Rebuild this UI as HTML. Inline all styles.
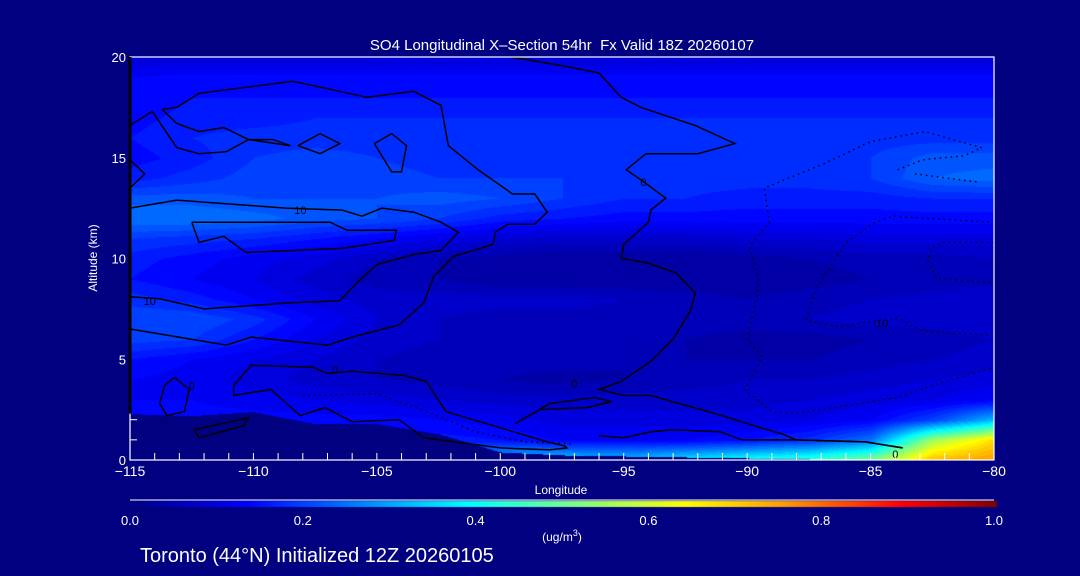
<!DOCTYPE html>
<html><head><meta charset="utf-8"><style>
html,body{margin:0;padding:0;background:#000080;}
#wrap{position:relative;width:1080px;height:576px;background:#000080;overflow:hidden;font-family:"Liberation Sans",sans-serif;}
canvas,svg{position:absolute;left:0;top:0;}
</style></head><body>
<div id="wrap">
<canvas id="cv" width="1080" height="576"></canvas>
<svg id="sv" width="1080" height="576"></svg>
</div>
<script>
// ---- data ----
const lons = [-115,-112.5,-110,-107.5,-105,-102.5,-100,-97.5,-95,-92.5,-90,-87.5,-85,-82.5,-80];
const alts = [20,19,18,17,16,15,14,13,12,11,10,9,8,7,6,5,4,3,2,1,0];
const so4 = [
[.09,.09,.09,.09,.09,.09,.09,.09,.09,.09,.09,.09,.09,.09,.09],
[.13,.14,.14,.14,.14,.14,.14,.14,.14,.14,.14,.14,.14,.14,.14],
[.13,.15,.15,.15,.15,.15,.15,.15,.15,.15,.15,.15,.15,.15,.15],
[.14,.16,.16,.17,.17,.17,.17,.17,.17,.17,.17,.17,.17,.17,.17],
[.15,.17,.18,.18,.18,.18,.18,.18,.18,.18,.18,.18,.18,.18,.18],
[.14,.16,.19,.20,.19,.18,.18,.18,.18,.18,.18,.18,.19,.22,.22],
[.16,.18,.20,.20,.20,.19,.19,.19,.18,.18,.18,.18,.19,.23,.24],
[.22,.22,.21,.21,.21,.22,.21,.19,.17,.17,.16,.16,.16,.17,.17],
[.25,.25,.24,.22,.21,.19,.16,.15,.14,.14,.14,.14,.14,.14,.14],
[.19,.18,.17,.15,.13,.11,.09,.08,.08,.08,.09,.09,.10,.10,.10],
[.16,.14,.12,.10,.07,.05,.04,.03,.03,.03,.04,.05,.06,.06,.07],
[.15,.13,.11,.08,.06,.05,.03,.03,.03,.03,.04,.04,.05,.05,.06],
[.18,.16,.13,.10,.08,.08,.08,.08,.07,.06,.05,.06,.07,.08,.09],
[.21,.21,.18,.13,.09,.07,.06,.06,.06,.06,.06,.07,.08,.08,.09],
[.20,.19,.15,.11,.08,.07,.06,.05,.05,.05,.04,.04,.05,.06,.07],
[.15,.13,.11,.09,.07,.06,.06,.06,.05,.05,.05,.05,.06,.07,.08],
[.13,.12,.10,.08,.07,.06,.05,.04,.05,.06,.07,.07,.08,.09,.10],
[.13,.13,.12,.11,.10,.09,.08,.08,.08,.08,.08,.09,.10,.11,.13],
[.14,.14,.14,.14,.14,.13,.12,.10,.10,.10,.10,.11,.13,.20,.32],
[.14,.14,.14,.14,.15,.16,.15,.13,.13,.13,.15,.18,.25,.55,.68],
[.14,.14,.14,.14,.20,.25,.33,.35,.33,.38,.42,.45,.52,.72,.76]];
const ground = [2.3,2.2,2.4,1.8,1.8,1.3,0.4,0.25,0.2,0.15,0.1,0.05,0,0,0];
const xTicks = [-115,-110,-105,-100,-95,-90,-85,-80];
const yTicks = [0,5,10,15,20];
const cbTicks = [0.0,0.2,0.4,0.6,0.8,1.0];
const solidContours = [
 [[-99.6,20],[-97.6,19.6],[-96,19.2],[-95.1,18],[-94.3,17.5],[-92.1,16.6],[-90.5,15.7],[-92,15.2],[-94.1,15.2],[-94.9,14.4],[-94.3,13.9],[-93.3,13],[-93.9,12.4],[-94,11.8],[-95,10.7],[-95.1,10],[-94.1,9.8],[-92.9,9.3],[-92.1,8.3],[-92.3,7.4],[-93,6],[-93.9,4.9],[-95.1,3.9],[-96,3.5],[-95,3.2],[-93.9,3.2],[-91,2.2],[-90,1.8],[-88.6,1.3],[-88,1],[-85.2,0.9],[-83.7,0.6]],
 [[-113.7,17.4],[-113.1,17.5],[-112.2,18.2],[-108.4,18.8],[-105.4,18],[-103.5,18.3],[-102.4,17.6],[-102.1,15.6],[-100.9,14.4],[-99.5,13.2],[-98.6,13.2],[-98.1,12.3],[-98.6,11.7],[-99.7,11.7],[-100.2,11.3],[-100.3,10.7],[-101.9,10.1],[-102.7,9.1],[-103.1,7.8],[-104.1,6.7],[-106,6.1],[-107,5.7],[-110.1,6.1],[-111.1,5.7],[-115,6.5]],
 [[-113.7,17.4],[-113.1,16.7],[-112.2,16.3],[-111.2,16.5],[-110.2,15.9],[-109.2,15.9],[-108.5,15.6]],
 [[-115,16.6],[-114.1,17.3],[-113.1,15.5],[-112.2,15.2],[-111.1,15.3],[-110.2,15.9],[-108.5,15.6]],
 [[-108.2,15.6],[-107.3,16.2],[-106.5,15.7],[-107.3,15.2],[-108.2,15.6]],
 [[-105.1,15.7],[-104.4,16.2],[-103.8,15.6],[-104,14.3],[-104.4,14.3],[-105.1,15.7]],
 [[-115,14.9],[-114.4,14.2],[-115,13.5]],
 [[-115,12.5],[-113.1,12.9],[-108.7,12.5],[-106.4,12.4],[-105.6,12.1],[-104.8,12.5],[-103.5,12.3],[-102.4,11.8],[-101.7,11.3],[-102.4,10.4],[-103.5,10.2],[-104.1,10],[-105,9.7],[-105.8,8.8],[-106.5,7.9],[-108.5,7.8],[-112,7.5],[-113.8,8],[-115,8.1]],
 [[-112.5,11.8],[-112.2,10.8],[-111.2,11.1],[-110.3,10.3],[-106.4,10.5],[-104.3,10.9],[-104.2,11.4],[-106.2,11.4],[-106.9,11.8],[-112.5,11.8]],
 [[-110.8,3.7],[-110.1,4.7],[-107.6,4.6],[-107,4.3],[-106,4.4],[-103.9,4.2],[-103,3.9],[-102.2,2.4],[-100,1.6],[-98.1,0.9],[-97.4,0.7],[-97.3,0.6],[-98,0.5],[-100,0.6],[-103.1,1.1],[-104.1,2],[-106,1.9],[-107.1,2.6],[-108.1,2.2],[-109.3,3.5],[-110.8,3.2],[-110.8,3.7]],
 [[-113.2,4.1],[-112.6,3.5],[-112.8,2.4],[-113.5,2.2],[-113.8,2.8],[-113.6,3.7],[-113.2,4.1]],
 [[-112.4,1.5],[-110.2,2.1],[-110.4,1.7],[-112.2,1.1],[-112.4,1.5]],
 [[-99.4,1.8],[-98.4,2.5],[-96.5,2.6],[-95.5,2.9],[-96.2,3.1],[-98,2.8],[-99.4,1.8]],
 [[-96,1.2],[-95,1.1],[-93.9,1.4],[-93,1.5],[-91.1,1.4],[-90.2,1],[-88,1],[-85.2,0.9],[-83.7,0.6]]
];
const dottedContours = [
 [[-80.5,15.5],[-82.8,16.3],[-85,15.8],[-86.9,14.7],[-89.3,13.5],[-89.1,11.8],[-89.9,10.6],[-89.5,8.8],[-90,6],[-89.4,5.1],[-90.1,3.5],[-89,2.4],[-88.1,2.3],[-83.9,3.1],[-82.5,3.7],[-80,4.6]],
 [[-80.2,11.8],[-84.1,12.1],[-84.8,11.8],[-86,10.8],[-87,8.9],[-87.4,7.9],[-87.6,6.9],[-86.2,6.6],[-84.9,6.9],[-83.8,7],[-82.9,6.4],[-80.2,6.2]],
 [[-80,10.8],[-82.1,10.8],[-82.5,10.5],[-82.7,9.9],[-82.3,9],[-80,8.8]],
 [[-83.9,14.4],[-82.9,14.9],[-81.2,15.1],[-80.5,15.5]],
 [[-83.2,14.2],[-80.7,13.8]],
 [[-108,3.2],[-105,3.3],[-103,2.4],[-101,1.4],[-99,0.9],[-97,0.8]]
];
const contourLabels = [["10",-108.1,12.4],["10",-114.2,7.9],["0",-94.2,13.8],["0",-106.7,4.5],["0",-112.5,3.7],["0",-97,3.8],["-10",-84.6,6.8],["0",-84,0.3]];

// ---- axes ----
const PL=130, PR=994, PT=57, PB=460;
const xS = lon => PL + (lon+115)/35*(PR-PL);
const yS = a => PB - a/20*(PB-PT);
const cmapStops = [[0,[0,0,128]],[0.135,[0,0,255]],[0.39,[0,255,255]],[0.55,[160,255,96]],[0.64,[255,255,0]],[0.75,[255,160,0]],[0.89,[255,0,0]],[1,[128,0,0]]];
function cmap(v){v=Math.max(0,Math.min(1,v));for(let i=1;i<cmapStops.length;i++){const [b,cb]=cmapStops[i],[a,ca]=cmapStops[i-1];if(v<=b){const t=(v-a)/(b-a);return ca.map((c,k)=>Math.round(c+(cb[k]-c)*t));}}return [128,0,0];}
function field(lon,alt){
  let fx=(lon+115)/2.5; fx=Math.max(0,Math.min(lons.length-1.0001,fx));
  let fy=(20-alt); fy=Math.max(0,Math.min(alts.length-1.0001,fy));
  const i=Math.floor(fx),j=Math.floor(fy),tx=fx-i,ty=fy-j;
  return so4[j][i]*(1-tx)*(1-ty)+so4[j][i+1]*tx*(1-ty)+so4[j+1][i]*(1-tx)*ty+so4[j+1][i+1]*tx*ty;
}
function groundAt(lon){let fx=(lon+115)/2.5;fx=Math.max(0,Math.min(lons.length-1.0001,fx));const i=Math.floor(fx),t=fx-i;return ground[i]*(1-t)+ground[i+1]*t;}
const ctx=document.getElementById('cv').getContext('2d');
const img=ctx.createImageData(PR-PL,PB-PT);
for(let py=0;py<PB-PT;py++){for(let px=0;px<PR-PL;px++){
  const lon=-115+px/(PR-PL)*35, alt=20-py/(PB-PT)*20;
  let c;
  if(alt<groundAt(lon)) c=[0,0,128];
  else{let v=field(lon,alt);v=Math.round(v/0.02)*0.02;c=cmap(v);}
  const o=(py*(PR-PL)+px)*4;img.data[o]=c[0];img.data[o+1]=c[1];img.data[o+2]=c[2];img.data[o+3]=255;
}}
ctx.putImageData(img,PL,PT);
const cbg=ctx.createLinearGradient(130,0,997,0);
cmapStops.forEach(s=>cbg.addColorStop(s[0],'rgb('+s[1].join(',')+')'));
ctx.fillStyle=cbg;ctx.fillRect(130,501,867,6);

const NS='http://www.w3.org/2000/svg';
const sv=document.getElementById('sv');
function mk(tag,attrs,parent){const e=document.createElementNS(NS,tag);for(const k in attrs)e.setAttribute(k,attrs[k]);(parent||sv).appendChild(e);return e;}
function txt(s,x,y,attrs){const e=mk('text',Object.assign({x:x,y:y,fill:'#fff','font-family':'Liberation Sans, sans-serif'},attrs));e.textContent=s;return e;}

solidContours.forEach(c=>{
  const p=mk('polyline',{points:c.map(q=>xS(q[0]).toFixed(1)+','+yS(q[1]).toFixed(1)).join(' '),fill:'none',stroke:'#000','stroke-width':1.5});
  
  
});
dottedContours.forEach(c=>{
  const p=mk('polyline',{points:c.map(q=>xS(q[0]).toFixed(1)+','+yS(q[1]).toFixed(1)).join(' '),fill:'none',stroke:'#000','stroke-width':1.5,'stroke-dasharray':'1.5 4'});
  
  
});
contourLabels.forEach(l=>{
  const t=txt(l[0],xS(l[1]),yS(l[2])+4,{fill:'#000','font-size':11,'text-anchor':'middle'});
  
  
});
const fr=mk('rect',{x:PL,y:PT,width:PR-PL,height:PB-PT,fill:'none',stroke:'#fff','stroke-width':1.2});


const lb=mk('line',{x1:PL,y1:PT,x2:PL,y2:yS(groundAt(-115)),stroke:'#000','stroke-width':3});


for(let a=0;a<=2;a++){const t=mk('line',{x1:PL,y1:yS(a),x2:PL+7,y2:yS(a),stroke:'#fff'});}
for(let l=-114;l<-80;l++){const t=mk('line',{x1:xS(l),y1:PB,x2:xS(l),y2:PB-7,stroke:'#fff'});}
xTicks.forEach(v=>{const t=txt(String(v).replace('-','\u2212'),xS(v),476,{'font-size':14,'text-anchor':'middle'});});
yTicks.forEach(v=>{const t=txt(String(v),126,yS(v)+5,{'font-size':13,'text-anchor':'end'});});
cbTicks.forEach(v=>{const t=txt(v.toFixed(1),130+v*864,525,{'font-size':13,'text-anchor':'middle'});});
const cbl=mk('line',{x1:130,y1:500,x2:994,y2:500,stroke:'#fff'});


</script>
<svg width="1080" height="576" style="position:absolute;left:0;top:0;pointer-events:none">
<text x="562" y="50" fill="#fff" font-size="15" text-anchor="middle" font-family="Liberation Sans, sans-serif">SO4 Longitudinal X–Section 54hr&#160; Fx Valid 18Z 20260107</text>
<text x="0" y="0" fill="#fff" font-size="12" text-anchor="middle" font-family="Liberation Sans, sans-serif" transform="translate(97,258) rotate(-90)">Altitude (km)</text>
<text x="561" y="494" fill="#fff" font-size="12" text-anchor="middle" font-family="Liberation Sans, sans-serif">Longitude</text>
<text x="562" y="541" fill="#fff" font-size="12" text-anchor="middle" font-family="Liberation Sans, sans-serif">(ug/m<tspan dy="-5" font-size="9">3</tspan><tspan dy="5">)</tspan></text>
<text x="140" y="562" fill="#fff" font-size="20" font-family="Liberation Sans, sans-serif">Toronto (44°N) Initialized 12Z 20260105</text>
</svg>
</body></html>
